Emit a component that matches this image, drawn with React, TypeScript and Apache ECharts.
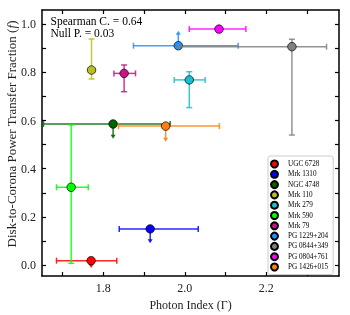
import React, { useEffect, useRef } from "react";
import * as echarts from "echarts";

const objects = ["UGC 6728", "Mrk 1310", "NGC 4748", "Mrk 110", "Mrk 279", "Mrk 590", "Mrk 79", "PG 1229+204", "PG 0844+349", "PG 0804+761", "PG 1426+015"];
const colors = ["#ff0000", "#0000ff", "#006400", "#bcbd22", "#17becf", "#00ff00", "#c71585", "#1e90ff", "#808080", "#ff00ff", "#ff7f0e"];
const photonIndex = [1.770, 1.915, 1.824, 1.771, 2.011, 1.721, 1.851, 1.984, 2.263, 2.084, 1.953];
const photonIndexLow = [1.685, 1.839, 1.653, null, 1.974, 1.685, 1.826, 1.874, 1.984, 2.011, 1.837];
const photonIndexHigh = [1.833, 2.033, 1.964, null, 2.050, 1.763, 1.879, 2.131, 2.348, 2.150, 2.085];
const fraction = [0.018, 0.150, 0.586, 0.810, 0.769, 0.323, 0.796, 0.911, 0.907, 0.980, 0.577];
const fractionLow = [null, null, null, 0.773, 0.654, 0.007, 0.720, null, 0.540, null, null];
const fractionHigh = [null, null, null, 0.939, 0.803, 0.582, 0.831, null, 0.938, null, null];
const limitKind = ["upper", "upper", "upper", "", "", "", "", "lower", "", "", "upper"];
const limitArrow = [0.03, 0.06, 0.062, 0, 0, 0, 0, 0.062, 0, 0, 0.065];

const xLabels = [1.8, 2.0, 2.2];
const xTicks = [1.7, 1.8, 1.9, 2.0, 2.1, 2.2, 2.3];
const yLabels = [0.0, 0.2, 0.4, 0.6, 0.8, 1.0];
const yTicks = [0.0, 0.1, 0.2, 0.3, 0.4, 0.5, 0.6, 0.7, 0.8, 0.9, 1.0];

const FONT = '"Liberation Serif", "Times New Roman", serif';
const X_MIN = 1.6494, X_MAX = 2.3786, Y_MIN = -0.0457, Y_MAX = 1.0594;

export default function App() {
  const ref = useRef<HTMLDivElement>(null);
  useEffect(() => {
    if (!ref.current) return;
    const chart = echarts.init(ref.current, null, { renderer: "svg" });

    const makeX = (pos: string, labels: boolean) => ({
      type: "value", min: X_MIN, max: X_MAX, position: pos,
      axisLine: { show: true, onZero: false, lineStyle: { color: "#000", width: 1.5 } },
      axisTick: { show: true, inside: true, length: 4, customValues: xTicks, lineStyle: { color: "#000", width: 1.2 } },
      axisLabel: labels ? { show: true, customValues: xLabels, formatter: (v: number) => v.toFixed(1), color: "#222", fontFamily: FONT, fontSize: 12, margin: 6 } : { show: false },
      splitLine: { show: false },
      name: labels ? "Photon Index (Γ)" : "",
      nameLocation: "middle", nameGap: 18,
      nameTextStyle: { color: "#222", fontFamily: FONT, fontSize: 12 },
    });
    const makeY = (pos: string, labels: boolean) => ({
      type: "value", min: Y_MIN, max: Y_MAX, position: pos,
      axisLine: { show: true, onZero: false, lineStyle: { color: "#000", width: 1.5 } },
      axisTick: { show: true, inside: true, length: 4, customValues: yTicks, lineStyle: { color: "#000", width: 1.2 } },
      axisLabel: labels ? { show: true, customValues: yLabels, formatter: (v: number) => v.toFixed(1), color: "#222", fontFamily: FONT, fontSize: 12, margin: 6 } : { show: false },
      splitLine: { show: false },
    });

    const series: any[] = [];
    objects.forEach((name, i) => {
      const col = colors[i];
      series.push({
        type: "custom", name: name + " err", coordinateSystem: "cartesian2d", z: 2 + 2 * i,
        data: [[photonIndex[i], fraction[i]]], encode: { x: 0, y: 1 }, silent: true,
        renderItem: (params: any, api: any) => {
          const children: any[] = [];
          const ls = { stroke: col, lineWidth: 1.5, opacity: 0.85 };
          const cap = 3;
          const x = photonIndex[i], y = fraction[i];
          const xl = photonIndexLow[i], xh = photonIndexHigh[i];
          if (xl != null && xh != null) {
            const a = api.coord([xl, y]), b = api.coord([xh, y]);
            children.push({ type: "line", shape: { x1: a[0], y1: a[1], x2: b[0], y2: b[1] }, style: ls });
            children.push({ type: "line", shape: { x1: a[0], y1: a[1] - cap, x2: a[0], y2: a[1] + cap }, style: ls });
            children.push({ type: "line", shape: { x1: b[0], y1: b[1] - cap, x2: b[0], y2: b[1] + cap }, style: ls });
          }
          const yl = fractionLow[i], yh = fractionHigh[i];
          if (yl != null && yh != null) {
            const a = api.coord([x, yl]), b = api.coord([x, yh]);
            children.push({ type: "line", shape: { x1: a[0], y1: a[1], x2: b[0], y2: b[1] }, style: ls });
            children.push({ type: "line", shape: { x1: a[0] - cap, y1: a[1], x2: a[0] + cap, y2: a[1] }, style: ls });
            children.push({ type: "line", shape: { x1: b[0] - cap, y1: b[1], x2: b[0] + cap, y2: b[1] }, style: ls });
          }
          if (limitKind[i]) {
            const dir = limitKind[i] === "upper" ? -1 : 1;
            const p = api.coord([x, y]);
            const t = api.coord([x, y + dir * limitArrow[i]]);
            const s = t[1] > p[1] ? 1 : -1;
            children.push({ type: "line", shape: { x1: p[0], y1: p[1], x2: t[0], y2: t[1] - s * 3 }, style: ls });
            children.push({ type: "polygon", shape: { points: [[t[0] - 2.5, t[1] - s * 4], [t[0] + 2.5, t[1] - s * 4], [t[0], t[1]]] }, style: { fill: col, opacity: 0.9 } });
          }
          return { type: "group", children };
        },
      });
      series.push({
        type: "scatter", name, z: 3 + 2 * i, symbol: "circle", symbolSize: 8.5,
        data: [[photonIndex[i], fraction[i]]],
        itemStyle: { color: col, borderColor: "#000", borderWidth: 0.7, opacity: 1 },
      });
    });

    chart.setOption({
      animation: false,
      grid: { left: 42, right: 11, top: 10, bottom: 39, containLabel: false, outerBoundsMode: "none" },
      xAxis: [makeX("bottom", true), makeX("top", false)],
      yAxis: [makeY("left", true), makeY("right", false)],
      legend: {
        data: objects.map((n) => ({ name: n, icon: "circle" })),
        orient: "vertical", left: 268, top: 156,
        itemWidth: 17, itemHeight: 7, itemGap: 1.3,
        padding: [3.5, 5, 3, 2],
        borderColor: "#cccccc", borderWidth: 1, borderRadius: 2, backgroundColor: "#fff",
        textStyle: { fontFamily: FONT, fontSize: 7.2, color: "#000", lineHeight: 7 },
        selectedMode: false,
      },
      graphic: [
        { type: "text", left: 50.5, top: 15, style: { text: "Spearman C. = 0.64", font: `11.5px ${FONT}`, fill: "#000" } },
        { type: "text", left: 50.5, top: 26.8, style: { text: "Null P. = 0.03", font: `11.5px ${FONT}`, fill: "#000" } },
        {
          type: "text", x: 11.5, y: 134, rotation: Math.PI / 2,
          style: {
            text: "Disk-to-Corona Power Transfer Fraction ({i|f})",
            fontFamily: FONT, fontSize: 13, fill: "#222", align: "center", verticalAlign: "middle",
            rich: { i: { fontStyle: "italic", fontFamily: FONT, fontSize: 13, fill: "#222" } },
          },
        },
      ],
      series,
    });
    return () => chart.dispose();
  }, []);
  return <div ref={ref} style={{ position: "fixed", left: 0, top: 0, width: 350, height: 315 }} />;
}
